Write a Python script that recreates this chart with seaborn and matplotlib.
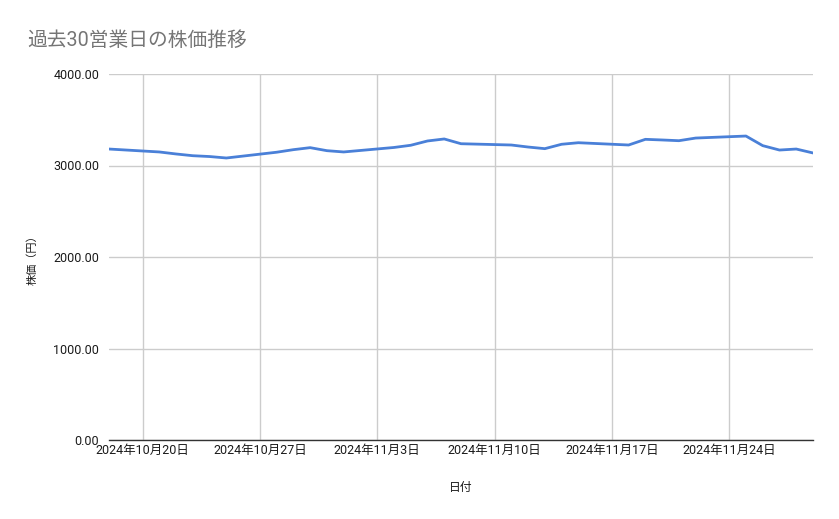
import numpy as np
import matplotlib.pyplot as plt
import matplotlib.dates as mdates
import pandas as pd
import seaborn as sns

# 営業日と終値
dates = ['2024-10-18',
         '2024-10-21', '2024-10-22', '2024-10-23', '2024-10-24', '2024-10-25',
         '2024-10-28', '2024-10-29', '2024-10-30', '2024-10-31', '2024-11-01',
         '2024-11-04', '2024-11-05', '2024-11-06', '2024-11-07', '2024-11-08',
         '2024-11-11', '2024-11-12', '2024-11-13', '2024-11-14', '2024-11-15',
         '2024-11-18', '2024-11-19', '2024-11-20', '2024-11-21', '2024-11-22',
         '2024-11-25', '2024-11-26', '2024-11-27', '2024-11-28', '2024-11-29']
prices = [3180,
          3148, 3126, 3107, 3098, 3082,
          3145, 3173, 3195, 3162, 3148,
          3197, 3221, 3268, 3290, 3238,
          3224, 3202, 3184, 3232, 3249,
          3224, 3286, 3279, 3271, 3300,
          3322, 3217, 3169, 3180, 3137]
yticks = [0, 1000, 2000, 3000, 4000]
xticks = ['2024-10-20', '2024-10-27', '2024-11-03', '2024-11-10', '2024-11-17', '2024-11-24']

df = pd.DataFrame({'日付': pd.to_datetime(dates), '株価（円）': prices})

sns.set_style('white')
plt.rcParams['font.family'] = ['Roboto', 'Noto Sans CJK JP', 'DejaVu Sans']

fig = plt.figure(figsize=(8.39, 5.19), dpi=100)
ax = fig.add_axes([109 / 839, 1 - 440 / 519, 704 / 839, 366 / 519])

sns.lineplot(data=df, x='日付', y='株価（円）', ax=ax, color='#4a80d8', linewidth=2)

ax.set_ylim(0, 4000)
ax.set_yticks(yticks)
ax.set_yticklabels([f'{v:.2f}' for v in yticks])
ax.set_xlim(pd.Timestamp(dates[0]), pd.Timestamp(dates[-1]))
xt = pd.to_datetime(xticks)
ax.set_xticks(xt)
ax.set_xticklabels([f'{d.year}年{d.month}月{d.day}日' for d in xt])

ax.grid(True, color='#cccccc', linewidth=1)
for s in ['top', 'right', 'left']:
    ax.spines[s].set_visible(False)
ax.spines['bottom'].set_color('#333333')
ax.spines['bottom'].set_linewidth(1)
ax.tick_params(axis='both', length=0, labelsize=9, colors='#1a1a1a')
ax.tick_params(axis='y', pad=7)
ax.tick_params(axis='x', pad=3)

ax.set_xlabel('日付', fontsize=8.5, color='#1a1a1a', labelpad=17)
ax.set_ylabel('株価（円）', fontsize=8, color='#1a1a1a', labelpad=11)

fig.text(27 / 839, 1 - 40 / 519, '過去30営業日の株価推移', fontsize=14.2,
         color='#757575', va='center', ha='left')

fig.savefig('out.png', dpi=100)
